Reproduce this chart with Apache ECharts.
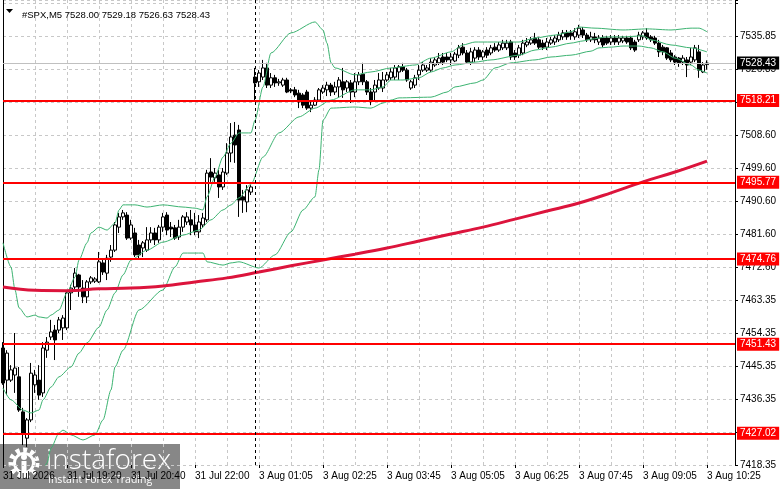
<!DOCTYPE html>
<html>
<head>
<meta charset="utf-8">
<script src="https://cdn.jsdelivr.net/npm/echarts@6/dist/echarts.min.js"></script>
<style>
html,body{margin:0;padding:0;background:#fff;}
#chart{width:781px;height:489px;}
</style>
</head>
<body>
<div id="chart"></div>
<script>
// ---------- data ----------
const headerText = '#SPX,M5 7528.00 7529.18 7526.63 7528.43';
const day1Label = '31 Jul', day1StartMin = 18 * 60, day1Count = 63;
const day2Label = '3 Aug', day2StartMin = 1 * 60, day2Count = 121; // includes right-shift slots
const categories = [];
function hhmm(m){const h=Math.floor(m/60),mm=m%60;return (h<10?'0':'')+h+':'+(mm<10?'0':'')+mm;}
for (let k = 0; k < day1Count; k++) categories.push(day1Label + ' ' + hhmm(day1StartMin + 5 * k));
for (let k = 0; k < day2Count; k++) categories.push(day2Label + ' ' + hhmm(day2StartMin + 5 * k));

const xTickLabels = ['31 Jul 2026','31 Jul 19:20','31 Jul 20:40','31 Jul 22:00','3 Aug 01:05','3 Aug 02:25',
  '3 Aug 03:45','3 Aug 05:05','3 Aug 06:25','3 Aug 07:45','3 Aug 09:05','3 Aug 10:25'];
const yTickLabels = ['7418.35','7427.35','7436.35','7445.35','7454.35','7463.35','7472.60','7481.60',
  '7490.60','7499.60','7508.60','7517.85','7526.85','7535.85'];
const yMin = 7418.35, yTopTick = 7535.85, yMax = 7545.71;

// [open, close, low, high]
const candles = [
[7450.4,7440.8,7440.3,7452.0],[7441.6,7449.0,7437.5,7449.8],[7441.6,7444.4,7441.1,7445.7],[7443.0,7444.9,7438.1,7454.5],
[7442.5,7433.4,7432.9,7445.2],[7432.9,7427.1,7423.8,7434.0],[7425.7,7430.7,7423.3,7431.2],[7430.7,7443.5,7430.1,7446.3],
[7440.3,7443.0,7438.1,7444.4],[7441.6,7437.5,7436.2,7445.7],[7438.1,7450.4,7437.0,7452.0],[7449.8,7452.0,7447.7,7453.4],
[7453.4,7454.8,7452.6,7458.1],[7455.3,7452.6,7447.1,7456.7],[7455.3,7458.1,7454.5,7458.9],[7455.9,7458.6,7452.6,7459.4],
[7455.9,7465.5,7455.3,7466.3],[7465.5,7466.8,7460.8,7467.7],[7467.1,7470.9,7466.3,7472.3],[7470.4,7467.1,7464.4,7470.7],
[7466.8,7464.4,7462.7,7469.0],[7464.4,7468.5,7462.7,7469.0],[7468.5,7469.6,7467.9,7470.1],[7468.7,7469.3,7468.2,7469.8],
[7468.5,7474.0,7468.2,7476.7],[7473.7,7471.2,7470.4,7474.5],[7470.9,7475.0,7469.0,7475.9],[7475.3,7477.2,7474.0,7478.6],
[7477.2,7484.1,7476.7,7484.9],[7483.5,7486.3,7481.9,7487.4],[7486.3,7487.4,7485.5,7488.2],[7486.8,7480.5,7480.0,7487.6],
[7480.5,7484.1,7480.0,7485.5],[7481.9,7475.9,7475.3,7483.3],[7478.6,7475.9,7475.0,7480.0],[7477.8,7479.2,7475.3,7479.7],
[7477.2,7480.0,7476.7,7483.5],[7480.0,7481.9,7479.2,7483.5],[7481.9,7480.0,7478.6,7483.3],[7480.0,7483.5,7479.2,7484.1],
[7483.5,7486.3,7482.2,7487.4],[7486.8,7482.7,7481.3,7487.6],[7483.5,7483.0,7480.8,7484.9],[7483.3,7480.5,7480.0,7484.1],
[7480.8,7483.5,7480.0,7485.5],[7483.5,7486.3,7482.2,7486.8],[7484.9,7486.3,7484.1,7487.6],[7485.5,7484.1,7481.3,7488.2],
[7484.1,7482.2,7481.3,7487.4],[7482.2,7484.9,7480.5,7486.8],[7484.1,7486.0,7483.3,7487.4],[7485.5,7498.3,7484.9,7499.2],
[7498.6,7497.2,7495.9,7502.4],[7497.0,7498.3,7495.9,7499.7],[7497.8,7494.5,7491.5,7499.2],[7494.5,7498.6,7493.7,7499.7],
[7498.3,7503.8,7497.8,7506.5],[7503.8,7508.2,7501.3,7512.0],[7508.7,7506.0,7501.1,7512.3],[7510.1,7490.9,7486.3,7511.5],
[7491.8,7490.9,7487.4,7493.7],[7490.4,7493.7,7487.6,7495.0],[7493.1,7494.5,7492.3,7495.0],[7524.6,7523.0,7518.3,7527.1],
[7523.3,7525.7,7521.9,7526.5],[7524.6,7527.1,7523.8,7529.3],[7527.1,7522.4,7521.6,7528.5],[7522.4,7524.4,7521.6,7525.7],
[7524.4,7523.0,7521.9,7525.2],[7523.0,7523.3,7522.2,7524.1],[7522.4,7523.8,7521.9,7524.4],[7523.8,7520.5,7520.2,7524.4],
[7521.1,7520.8,7520.2,7521.6],[7521.1,7519.7,7519.1,7521.9],[7520.2,7517.8,7516.1,7521.1],[7519.7,7516.9,7516.1,7520.2],
[7520.5,7516.1,7515.6,7521.1],[7516.1,7516.9,7515.0,7518.3],[7516.9,7518.3,7516.7,7519.1],[7518.3,7521.1,7517.8,7521.6],
[7520.5,7521.6,7520.0,7522.4],[7521.1,7522.4,7519.4,7523.3],[7522.4,7520.5,7519.4,7523.0],[7520.5,7521.9,7519.7,7523.3],
[7521.9,7523.8,7518.9,7524.6],[7523.3,7521.1,7518.9,7527.1],[7521.6,7523.3,7520.5,7523.8],[7523.0,7520.5,7517.5,7523.8],
[7520.5,7523.3,7519.1,7525.7],[7523.3,7525.2,7522.4,7526.0],[7525.4,7523.3,7522.4,7528.5],[7523.3,7520.5,7519.7,7523.8],
[7520.5,7518.3,7516.9,7521.6],[7520.5,7522.4,7517.8,7523.8],[7521.6,7523.8,7521.1,7525.7],[7521.6,7523.8,7520.5,7526.0],
[7523.8,7525.2,7523.3,7526.0],[7524.4,7526.0,7523.8,7527.1],[7524.6,7527.1,7523.8,7527.9],[7526.0,7527.4,7523.8,7527.9],
[7527.4,7526.5,7526.0,7528.5],[7526.5,7523.8,7523.3,7527.1],[7521.6,7523.3,7521.1,7523.8],[7522.4,7524.4,7521.6,7525.2],
[7525.2,7526.5,7523.8,7527.9],[7526.5,7527.9,7526.0,7528.7],[7526.5,7527.1,7526.0,7527.9],[7526.5,7528.7,7526.0,7529.8],
[7527.9,7529.3,7527.4,7530.1],[7528.5,7529.8,7527.9,7531.2],[7530.1,7528.7,7527.9,7531.2],[7530.1,7529.3,7528.7,7531.2],
[7529.3,7530.1,7527.9,7531.2],[7529.0,7530.9,7528.7,7531.5],[7530.6,7532.6,7529.8,7533.4],[7532.8,7531.2,7530.6,7533.9],
[7531.2,7528.7,7528.5,7532.0],[7528.7,7531.5,7527.9,7532.6],[7529.8,7532.0,7528.7,7532.8],[7532.0,7530.1,7529.3,7532.8],
[7530.1,7531.5,7529.3,7532.0],[7532.0,7530.6,7529.8,7532.8],[7531.2,7532.6,7530.6,7533.4],[7532.8,7532.0,7531.5,7533.9],
[7532.0,7533.4,7531.5,7534.2],[7532.6,7533.9,7532.0,7534.8],[7532.6,7533.9,7532.0,7534.8],[7534.2,7530.1,7529.3,7534.8],
[7531.2,7530.1,7529.3,7532.0],[7530.6,7532.6,7529.8,7533.4],[7531.2,7533.9,7530.6,7534.8],[7533.4,7534.2,7532.8,7535.3],
[7533.9,7534.8,7533.4,7535.6],[7535.3,7533.9,7533.4,7536.7],[7534.8,7532.8,7532.3,7535.6],[7533.9,7532.8,7532.0,7534.8],
[7532.8,7534.2,7532.0,7535.3],[7533.9,7534.8,7533.4,7535.6],[7534.2,7535.3,7533.4,7536.1],[7534.8,7536.1,7534.2,7537.0],
[7535.6,7536.7,7534.8,7537.5],[7536.7,7535.6,7534.8,7537.5],[7536.7,7535.9,7534.8,7537.5],[7535.6,7537.0,7534.8,7538.0],
[7536.1,7538.0,7535.3,7538.9],[7537.5,7536.1,7535.3,7538.3],[7536.1,7534.8,7534.2,7536.7],[7534.8,7535.6,7534.2,7537.0],
[7535.6,7534.8,7533.9,7536.7],[7534.2,7535.3,7533.4,7536.1],[7535.3,7533.4,7532.8,7536.1],[7535.3,7533.9,7533.4,7535.9],
[7534.2,7535.3,7533.4,7536.1],[7535.3,7534.2,7533.4,7536.1],[7534.2,7535.3,7533.4,7536.1],[7534.5,7535.3,7533.9,7535.9],
[7535.3,7534.2,7533.7,7535.9],[7535.3,7532.6,7532.0,7535.9],[7534.2,7532.0,7531.5,7534.8],[7534.8,7536.1,7534.2,7537.0],
[7535.6,7536.7,7534.8,7537.2],[7536.7,7535.3,7534.8,7538.0],[7535.6,7534.8,7534.2,7536.1],[7535.3,7533.9,7533.4,7535.9],
[7533.9,7531.5,7530.1,7534.8],[7532.8,7531.5,7530.6,7533.4],[7532.6,7529.8,7529.3,7532.8],[7531.2,7529.3,7528.7,7532.0],
[7530.1,7528.7,7527.9,7530.6],[7529.8,7528.5,7527.4,7530.1],[7528.7,7529.8,7527.9,7530.6],[7529.3,7527.9,7524.6,7530.1],
[7528.7,7530.1,7527.9,7532.6],[7529.3,7532.6,7528.7,7533.4],[7531.5,7526.5,7524.4,7533.4],[7526.0,7527.9,7525.7,7528.7],
[7528.00,7528.43,7526.63,7529.18]
];

// moving average [bar index, value]
const maLine = [[0,7467.1],[8,7466.2],[16,7466.1],[24,7466.6],[32,7466.8],[40,7467.4],[48,7468.5],[56,7469.6],
[64,7471.2],[72,7472.9],[80,7474.5],[88,7476.1],[96,7477.8],[104,7479.7],[112,7481.6],[120,7483.5],[128,7485.7],
[136,7487.9],[144,7490.1],[152,7492.9],[160,7495.9],[168,7498.6],[176,7501.6]];

// Bollinger bands [bar index, value]
const bbUpper = [[0,7479.2],[2,7472.6],[3,7466.3],[4,7461.4],[6,7458.9],[8,7459.4],[9,7458.9],[11,7458.6],[12,7459.4],
[14,7460.8],[16,7465.5],[18,7469.8],[19,7474.5],[21,7479.2],[22,7481.9],[24,7483.5],[26,7482.7],[28,7484.6],[29,7488.2],
[30,7489.6],[33,7489.6],[36,7489.0],[40,7489.6],[45,7489.0],[48,7488.7],[50,7488.2],[51,7491.8],[53,7497.2],[55,7502.7],
[57,7506.5],[59,7509.3],[62,7509.3],[63,7512.8],[65,7521.9],[67,7531.2],[72,7536.7],[78,7539.7],[80,7537.5],[81,7533.9],
[82,7528.5],[83,7527.1],[88,7525.2],[92,7526.0],[97,7527.1],[103,7527.9],[107,7529.8],[112,7531.5],[115,7533.4],
[118,7534.2],[122,7534.2],[129,7534.2],[133,7535.3],[138,7536.1],[142,7537.0],[144,7538.3],[148,7538.0],[155,7537.5],
[161,7537.8],[167,7537.5],[172,7538.0],[174,7538.0],[176,7537.0]];
const bbMiddle = [[0,7439.4],[2,7436.2],[5,7433.4],[7,7432.6],[9,7433.4],[10,7436.2],[12,7439.7],[14,7442.5],[17,7445.2],
[19,7449.0],[21,7451.8],[24,7456.1],[26,7460.8],[28,7465.5],[30,7470.4],[32,7474.5],[36,7477.2],[40,7479.4],[45,7481.3],
[49,7482.7],[52,7485.5],[55,7488.2],[57,7489.6],[59,7491.5],[62,7495.3],[65,7502.7],[69,7509.3],[74,7513.7],[78,7516.1],
[82,7518.3],[88,7521.1],[92,7521.1],[95,7521.9],[97,7523.8],[100,7523.8],[104,7524.4],[107,7526.0],[110,7527.1],
[113,7527.9],[118,7528.7],[122,7529.3],[129,7530.6],[133,7532.0],[137,7532.8],[142,7533.9],[145,7534.5],[147,7535.0],
[151,7535.6],[155,7535.6],[160,7535.9],[162,7534.8],[167,7533.4],[172,7532.6],[176,7531.5]];
const bbLower = [[0,7399.7],[2,7399.7],[4,7407.4],[6,7407.4],[8,7406.6],[9,7408.8],[10,7417.0],[11,7418.9],[12,7423.0],
[14,7427.1],[15,7427.9],[17,7426.6],[20,7425.2],[23,7426.6],[25,7430.7],[27,7438.9],[28,7445.2],[30,7449.8],[34,7460.8],
[40,7466.3],[43,7472.6],[45,7476.4],[50,7476.4],[51,7474.0],[55,7473.1],[57,7473.7],[59,7474.0],[64,7472.3],[68,7475.9],
[72,7482.2],[75,7488.2],[78,7491.8],[79,7499.2],[80,7512.8],[82,7516.1],[88,7516.4],[92,7516.1],[95,7517.5],[97,7518.3],
[99,7518.9],[107,7519.1],[111,7520.5],[113,7521.9],[118,7523.0],[120,7523.8],[123,7527.1],[127,7528.5],[133,7529.3],
[137,7530.1],[142,7530.6],[147,7531.7],[149,7532.6],[152,7532.8],[155,7533.1],[159,7533.1],[162,7532.6],[165,7531.5],
[168,7529.8],[172,7527.9],[174,7526.5],[176,7525.7]];

const levels = [7518.21, 7495.77, 7474.76, 7451.43, 7427.02];
const currentPrice = 7528.43;
const separatorBar = 63;

// ---------- chart ----------
const FONT = 'Liberation Sans';
const yInterval = (yTopTick - yMin) / 13;
const chart = echarts.init(document.getElementById('chart'), null, {renderer:'canvas'});

const levelLines = levels.map(v => ({
  yAxis: v,
  lineStyle: {color:'#ff0000', width:2, type:'solid'},
  label: {show:true, position:'end', distance:2, formatter: v.toFixed(2), color:'#fff',
    backgroundColor:'#ff0000', padding:[2,3,1,3], fontSize:10, fontFamily:FONT}
}));
levelLines.push({
  yAxis: currentPrice,
  lineStyle: {color:'#c0c0c0', width:1, type:'solid'},
  label: {show:true, position:'end', distance:2, formatter: currentPrice.toFixed(2), color:'#fff',
    backgroundColor:'#000', padding:[2,3,1,3], fontSize:10, fontFamily:FONT}
});
levelLines.push({
  xAxis: categories[separatorBar],
  lineStyle: {color:'#000', width:1, type:[3,3]},
  label: {show:false}
});

const bbStyle = {type:'line', symbol:'none', silent:true, z:3, smooth:0.25, smoothMonotone:'x',
  lineStyle:{color:'#3cb371', width:1}};

chart.setOption({
  animation: false,
  backgroundColor: '#fff',
  textStyle: {fontFamily: FONT},
  title: {
    text: headerText, left: 17, top: 5,
    textStyle: {fontSize: 9.5, fontWeight: 'normal', color: '#000', fontFamily: FONT}
  },
  grid: {left: 3, right: 46, top: 0, bottom: 24, containLabel: false},
  xAxis: {
    type: 'category', data: categories, boundaryGap: false,
    axisLine: {show: false},
    axisTick: {show: true, interval: 15, length: 3, lineStyle: {color: '#000'}},
    axisLabel: {interval: 15, align: 'left', margin: 6, color: '#000', fontSize: 10, fontFamily: FONT,
      formatter: (val, idx) => (idx % 16 === 0 && xTickLabels[idx / 16]) ? xTickLabels[idx / 16] : ''},
    splitLine: {show: true, interval: 7, lineStyle: {color: '#c8c8c8', type: [3,3], width: 1}}
  },
  yAxis: [{
    type: 'value', position: 'right', min: yMin, max: yMax, interval: yInterval, scale: true,
    axisLine: {show: true, lineStyle: {color: '#000'}},
    axisTick: {show: true, length: 3, lineStyle: {color: '#000'}},
    axisLabel: {margin: 5, color: '#000', fontSize: 10, fontFamily: FONT,
      formatter: v => { const k = (v - yMin) / yInterval; const r = Math.round(k);
        return (Math.abs(k - r) < 0.01 && yTickLabels[r]) ? yTickLabels[r] : ''; }},
    splitLine: {show: true, lineStyle: {color: '#c8c8c8', type: [3,3], width: 1}}
  }, {
    type: 'value', position: 'left', min: 0, max: 1,
    axisLine: {show: true, onZero: false, lineStyle: {color: '#000'}},
    axisTick: {show: false}, axisLabel: {show: false}, splitLine: {show: false}
  }],
  series: [
    {
      type: 'candlestick', name: 'SPX', data: candles, barWidth: 3,
      itemStyle: {color: '#fff', color0: '#000', borderColor: '#000', borderColor0: '#000', borderWidth: 1},
      markLine: {silent: true, symbol: ['none','none'], animation: false, data: levelLines}
    },
    Object.assign({name:'BB upper', data: bbUpper}, bbStyle),
    Object.assign({name:'BB middle', data: bbMiddle}, bbStyle),
    Object.assign({name:'BB lower', data: bbLower}, bbStyle),
    {type:'line', name:'MA', data: maLine, symbol:'none', silent:true, z:4, smooth:0.4,
      lineStyle:{color:'#dc143c', width:3}}
  ],
  graphic: [
    {type:'polygon', left: 6, top: 9, shape:{points:[[0,0],[7,0],[3.5,4]]}, style:{fill:'#000'}, z: 10},
    {type:'group', left: 0, top: 444, z: 100, children: [
      {type:'rect', shape:{x:0, y:0, width:180, height:45}, style:{fill:'rgba(105,105,105,0.8)'}},
      {type:'circle', shape:{cx:24, cy:19, r:13}, style:{fill:'none', stroke:'#fff', lineWidth:5, lineDash:[4,3.5]}},
      {type:'circle', shape:{cx:24, cy:19, r:9.5}, style:{fill:'none', stroke:'#fff', lineWidth:3}},
      {type:'circle', shape:{cx:24, cy:13, r:3}, style:{fill:'#fff'}},
      {type:'rect', shape:{x:21.5, y:17, width:5, height:17}, style:{fill:'#fff'}},
      {type:'text', style:{x:46, y:3, text:'instaforex', fill:'#fff', fontSize:28, fontFamily:'Open Sans', fontWeight:300}},
      {type:'text', style:{x:48, y:31, text:'Instant Forex Trading', fill:'#fff', fontSize:10.5, fontFamily:'Open Sans'}}
    ]}
  ]
});
</script>
</body>
</html>
